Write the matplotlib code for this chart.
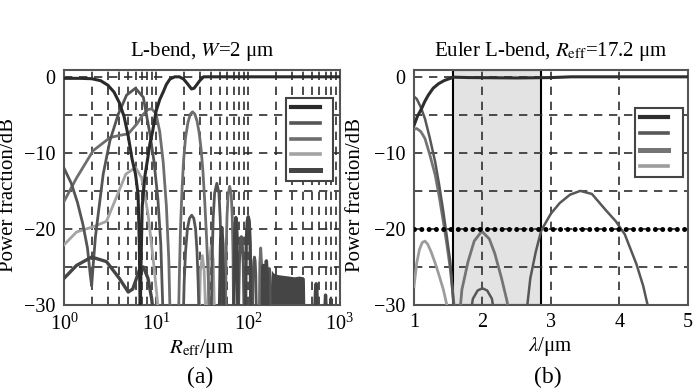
import numpy as np
import matplotlib
matplotlib.use("Agg")
import matplotlib.pyplot as plt
from matplotlib.ticker import MultipleLocator, LogLocator, NullFormatter
from matplotlib.lines import Line2D

plt.rcParams['font.family'] = ['Liberation Serif', 'DejaVu Serif']
plt.rcParams['mathtext.fontset'] = 'stix'
plt.rcParams['axes.unicode_minus'] = True

# ---------------- panel (a): L-bend, W = 2 um ----------------
# fundamental (dark)
a1_R = [1, 1.5, 2, 2.5, 3, 3.5, 4, 4.5, 5, 5.5, 6, 6.4, 6.6, 6.75, 6.9, 7.1, 7.6, 8.2, 8.6,
        9.2, 10, 11, 12, 13, 14.2, 16, 18, 20, 22, 24.4, 26, 28, 30, 33, 40, 100, 1000]
a1_db = [-0.2, -0.2, -0.25, -0.5, -1.1, -2.0, -3.4, -5.2, -7.8, -10.8, -12.8, -15.5, -22, -32, -24, -17,
         -13, -10.5, -8.8, -7.2, -4.6, -3.0, -2.0, -1.0, -0.3, 0, 0, -0.3, -0.9, -1.6, -1.5, -1.0, -0.5, 0, 0, 0, 0]
# second curve
a2_R = [1, 1.2, 1.4, 1.6, 1.8, 1.93, 2.0, 2.07, 2.2, 2.36, 2.67, 3.16, 3.9, 4.8, 6, 7.3, 8.6, 9.5, 10.5, 11.3, 12,
        19.8, 20.3, 21, 22, 23.2, 24.5, 25.8, 27, 28, 28.8, 29.5,
        40, 41, 42, 43.5, 46, 48.5, 50, 51.5, 53,
        79, 81, 83, 85, 87, 89, 91,
        112, 114, 116, 118, 120, 122, 124,
        165, 168, 171, 174, 177]
a2_db = [-12, -14, -16.5, -19.3, -22.5, -26, -27.5, -25, -21, -18, -12.8, -8.4, -4.9, -2.4, -1.5, -2.7, -7.5, -11, -16, -22, -32,
         -32, -27, -23, -20, -18.6, -18.2, -18.6, -20, -23, -27, -32,
         -32, -23.5, -18.5, -15.3, -14, -15.3, -18.5, -23.5, -32,
         -32, -24.5, -21.8, -21, -21.8, -24.5, -32,
         -32, -26, -24.2, -23.7, -24.2, -26, -32,
         -32, -26.5, -25.2, -26.5, -32]
# third curve
a3_R = [1, 1.37, 2.08, 3.16, 4, 5, 6.2, 7.2, 8.2, 9, 10, 11, 12, 13, 13.8, 14.3,
        17.6, 18.0, 18.5, 19.2, 20, 21, 22.3, 23.7, 25, 26.5, 28, 29.5, 31, 32.5, 34, 35.5, 37, 38.5,
        57, 58, 59.3, 61, 63.5, 66, 67.7, 69, 70,
        133, 135, 138, 141, 143]
a3_db = [-16.4, -13.3, -9.7, -8.0, -7.7, -7.5, -6.2, -5.0, -4.3, -4.2, -4.8, -7.2, -11.2, -17, -24, -32,
         -32, -26, -20, -15, -11, -8, -6, -4.9, -4.6, -4.9, -5.8, -7.3, -9.5, -12.5, -16.5, -21, -26, -32,
         -32, -23.5, -18.5, -15.5, -14.4, -15.5, -18.5, -23.5, -32,
         -32, -24.5, -22.5, -24.5, -32]
# fourth curve (light)
a4_R = [1, 1.37, 2.1, 2.9, 3.7, 4.7, 6, 7, 8.2, 9.5, 10.3, 10.8,
        29.5, 30.5, 32, 33.5, 35,
        36.5, 38, 40, 42, 43.5]
a4_db = [-22.1, -20.4, -19.7, -19.0, -15.9, -12.8, -11.9, -13.3, -18, -24.8, -29, -32,
         -32, -25.5, -23.5, -25.5, -32,
         -32, -24, -22.2, -24, -32]
# fifth curve (thick dark)
a5_R = [1, 1.37, 2, 2.9, 4, 5, 5.6, 6.7, 7.3, 8.2, 9, 9.5,
        49, 50.5, 52, 53.5, 55,
        70, 72, 74, 76, 78,
        94, 96, 98.5, 101, 103.5, 106, 108,
        143, 145, 147, 149,
        153, 155, 159, 163, 165,
        530, 545, 554, 563, 578,
        680, 700, 720, 785, 800, 815]
a5_db = [-26.5, -24.8, -23.7, -24.3, -26.5, -28.3, -27.9, -25.2, -25.0, -26.5, -29.2, -32,
         -32, -22, -19.8, -22, -32,
         -32, -20.5, -18.5, -20.5, -32,
         -32, -22, -19, -18.4, -19, -22, -32,
         -32, -25.5, -24.8, -32,
         -32, -26, -24.2, -26, -32,
         -32, -28, -27.2, -28, -32,
         -32, -28.7, -32, -32, -29.2, -32]
# dense oscillation region, drawn as its envelope
blk_R = [172, 180, 190, 210, 240, 280, 320, 360, 400, 412, 416]
blk_top = [-30, -25.4, -25.8, -26.0, -26.1, -26.2, -26.3, -26.2, -26.3, -26.5, -30]

a_colors = ['#2a2a2a', '#555555', '#6e6e6e', '#a3a3a3', '#454545']

# ---------------- panel (b): Euler L-bend ----------------
b1_lam = [1.0, 1.05, 1.11, 1.16, 1.21, 1.28, 1.36, 1.44, 1.5, 1.58, 1.8, 2.5, 3.0, 3.3, 4.0, 5.0]
b1_db = [-6.4, -5.2, -4.2, -3.2, -2.4, -1.5, -0.9, -0.5, -0.3, -0.05, -0.1, -0.15, -0.1, 0, 0, 0]
b2_lam = [1.0, 1.04, 1.1, 1.16, 1.23, 1.31, 1.37, 1.43, 1.48, 1.53, 1.57, 1.6]
b2_db = [-2.6, -2.9, -4.0, -5.5, -8.0, -11.2, -14.3, -17.8, -21, -24.3, -29, -33]
b3_lam = [1.0, 1.04, 1.1, 1.16, 1.23, 1.31, 1.37, 1.43, 1.48, 1.53, 1.58, 1.61]
b3_db = [-6.9, -6.8, -7.2, -8.1, -10.2, -12.9, -15.8, -19.1, -22, -25.2, -29.5, -33]
b4_lam = [1.0, 1.04, 1.08, 1.12, 1.16, 1.2, 1.25, 1.31, 1.37, 1.43, 1.48, 1.52]
b4_db = [-27.6, -24.5, -22.7, -21.8, -21.6, -22.0, -23.0, -24.5, -26.2, -28.0, -30, -33]
lobeA_lam = [1.65, 1.7, 1.79, 1.88, 1.99, 2.1, 2.18, 2.28, 2.36, 2.41]
lobeA_db = [-33, -28, -24.3, -21.6, -20.3, -21.3, -23.2, -26.5, -29.5, -33]
lobeB_lam = [1.8, 1.86, 1.93, 2.0, 2.07, 2.14, 2.2]
lobeB_db = [-33, -29.2, -28.1, -27.8, -28.1, -29.2, -33]
lobeC_lam = [2.62, 2.7, 2.78, 2.86, 3.0, 3.13, 3.28, 3.43, 3.6, 3.81, 3.95, 4.08, 4.25, 4.35, 4.44]
lobeC_db = [-33, -26.5, -23, -20.2, -18, -16.6, -15.5, -15.0, -15.4, -17.6, -19.0, -20.7, -24.6, -27.5, -31]
thresh_lam = [1, 5]
thresh_db = [-20, -20]
band = [1.565, 2.855]

b_colors = ['#2e2e2e', '#575757', '#747474', '#9c9c9c']

fig = plt.figure(figsize=(7.0, 3.92), dpi=100)
axa = fig.add_axes([0.0914, 0.222, 0.394, 0.5995])
axb = fig.add_axes([0.5914, 0.222, 0.391, 0.5995])

grid_kw = dict(color='#2e2e2e', linestyle=(0, (5, 4)), linewidth=1.2)

for ax in (axa, axb):
    ax.set_ylim(-30, 0.9)
    ax.set_yticks([0, -10, -20, -30])
    ax.yaxis.set_minor_locator(MultipleLocator(5))
    ax.set_axisbelow(True)
    for s in ax.spines.values():
        s.set_color('#555555')
        s.set_linewidth(1.5)
    ax.tick_params(which='both', length=0, labelsize=14.5, pad=6)
    ax.set_ylabel('Power fraction/dB', fontsize=15)
    ax.grid(True, which='both', axis='y', **grid_kw)

# panel (a)
axa.set_xscale('log')
axa.set_xlim(1, 1000)
axa.xaxis.set_major_locator(LogLocator(base=10, numticks=5))
axa.xaxis.set_minor_locator(LogLocator(base=10, subs=np.arange(2, 10), numticks=20))
axa.xaxis.set_minor_formatter(NullFormatter())
axa.grid(True, which='both', axis='x', **grid_kw)

axa.fill_between(blk_R, -30, blk_top, color=a_colors[4], lw=0, zorder=2)
axa.plot(a4_R, a4_db, color=a_colors[3], lw=2.0, zorder=3)
axa.plot(a3_R, a3_db, color=a_colors[2], lw=2.0, zorder=3)
axa.plot(a2_R, a2_db, color=a_colors[1], lw=2.0, zorder=3)
axa.plot(a5_R, a5_db, color=a_colors[4], lw=2.4, zorder=3)
axa.plot(a1_R, a1_db, color=a_colors[0], lw=2.2, zorder=4)

axa.set_title('L-bend, $W$=2 μm', fontsize=15, pad=10)
axa.set_xlabel(r'$R_{\rm eff}$/μm', fontsize=15, labelpad=2)
axa.yaxis.set_label_coords(-0.165, 0.47)

hA = [Line2D([], [], color=c, lw=w) for c, w in zip(a_colors, [3, 2.6, 2.6, 2.6, 3.6])]
lega = axa.legend(hA, [''] * 5, loc='upper right', bbox_to_anchor=(0.975, 0.881),
                  fontsize=8, handlelength=2.55, handletextpad=0.75, labelspacing=0.55,
                  borderpad=0.45, borderaxespad=0, fancybox=False, framealpha=1)
lega.get_frame().set_edgecolor('#444444')
lega.get_frame().set_linewidth(1.5)

# panel (b)
axb.set_xlim(1, 5)
axb.set_xticks([1, 2, 3, 4, 5])
axb.grid(True, which='major', axis='x', **grid_kw)
axb.axvspan(band[0], band[1], facecolor='#e3e3e3', edgecolor='black', lw=1.5, zorder=0.3)

axb.plot(b4_lam, b4_db, color=b_colors[3], lw=2.0, zorder=3)
axb.plot(b3_lam, b3_db, color=b_colors[2], lw=2.0, zorder=3)
axb.plot(b2_lam, b2_db, color=b_colors[1], lw=1.8, zorder=3)
axb.plot(lobeA_lam, lobeA_db, color=b_colors[2], lw=2.0, zorder=3)
axb.plot(lobeB_lam, lobeB_db, color=b_colors[1], lw=1.8, zorder=3)
axb.plot(lobeC_lam, lobeC_db, color=b_colors[1], lw=1.8, zorder=3)
axb.plot(b1_lam, b1_db, color=b_colors[0], lw=2.2, zorder=4)
axb.plot(thresh_lam, thresh_db, color='black', lw=3.6, linestyle=(0, (0.01, 1.45)),
         dash_capstyle='round', zorder=5)

axb.set_title(r'Euler L-bend, $R_{\rm eff}$=17.2 μm', fontsize=15, pad=10)
axb.set_xlabel(r'$\lambda$/μm', fontsize=15, labelpad=2)
axb.yaxis.set_label_coords(-0.178, 0.47)

hB = [Line2D([], [], color=c, lw=w) for c, w in zip(b_colors, [3, 2.6, 3.6, 2.6])]
legb = axb.legend(hB, [''] * 4, loc='upper right', bbox_to_anchor=(0.982, 0.838),
                  fontsize=8, handlelength=2.55, handletextpad=0.85, labelspacing=0.6,
                  borderpad=0.45, borderaxespad=0, fancybox=False, framealpha=1)
legb.get_frame().set_edgecolor('#444444')
legb.get_frame().set_linewidth(1.5)

fig.text(0.286, 0.036, '(a)', fontsize=17, ha='center', va='center')
fig.text(0.783, 0.036, '(b)', fontsize=17, ha='center', va='center')

fig.savefig('out.png', dpi=100)
